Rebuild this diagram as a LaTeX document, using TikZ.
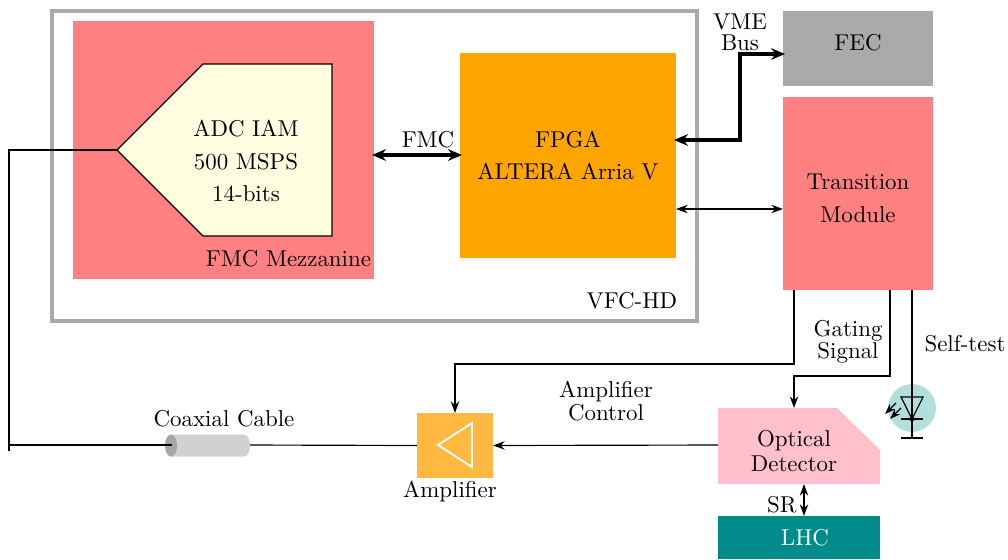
\documentclass[tikz,border=0pt]{standalone}
\usepackage{amsmath,amssymb}
\usepackage[dvipsnames]{xcolor}
\usetikzlibrary{
	positioning,
	arrows.meta
}

\definecolor{framegray}{HTML}{AAAAAA}
\definecolor{mezzred}{HTML}{FF8080}
\definecolor{fpgaorange}{HTML}{FFA500}
\definecolor{ampyellow}{HTML}{FFB840}
\definecolor{detpink}{HTML}{FFC0CB}
\definecolor{lhcteal}{HTML}{008B8B}
\definecolor{ledteal}{HTML}{B2DFDD}

\tikzset{
	x=0.43pt,y=-0.43pt,
	every node/.style={font=\fontsize{9.85pt}{12pt}\selectfont},
	box/.style={inner sep=0pt,outer sep=0pt,align=center},
	label/.style={inner sep=0pt,outer sep=0pt,align=center},
	wire/.style={line width=0.5pt,-{Stealth[length=5pt,width=3.6pt]}},
	wirenotip/.style={line width=0.5pt},
	twoway/.style={line width=0.5pt,{Stealth[length=5pt,width=3.6pt]}-{Stealth[length=5pt,width=3.6pt]}},
	bus/.style={line width=1.5pt,{Stealth[length=6pt,width=5pt]}-{Stealth[length=6pt,width=5pt]}}
}

\begin{document}
\begin{tikzpicture}
	\useasboundingbox (0,0) rectangle (1008,559);

	% carrier and boards
	\node [draw=framegray,line width=1.4pt,outer sep=0pt,minimum width=277.4pt,minimum height=133.3pt] (vfc) at (374.5,166) {};
	\node [box,fill=mezzred,minimum width=129.4pt,minimum height=111pt] (mezz) at (223.5,150) {};
	\node [box,fill=fpgaorange,minimum width=92.9pt,minimum height=88.2pt] (fpga) at (568,155.5)
		{FPGA\\[2pt]ALTERA Arria V};
	\node [box,fill=framegray,minimum width=64.5pt,minimum height=32.3pt] (fec) at (858,48.5) {};
	\node [label] (feclabel) at (858,43) {FEC};
	\node [box,fill=mezzred,minimum width=64.5pt,minimum height=83pt,below=4.7pt of fec] (tm) {};
	\node [label] (tmlabel) at (858,198.5) {Transition\\[2pt]Module};

	% ADC
	\coordinate (adctip) at (117,150);
	\draw [fill=yellow!12,line width=0.5pt] (adctip) -- (203,64) -- (332,64) -- (332,236) -- (203,236) -- cycle;
	\node [label] (adc) at (246,161) {ADC IAM\\[2pt]500 MSPS\\[2pt]14-bits};
	\node [label,anchor=south east] (mezzlabel) at (371,267) {FMC Mezzanine};
	\node [label,anchor=south east] (vfclabel) at (677,309) {VFC-HD};

	% front end
	\node [box,fill=ampyellow,minimum width=32.7pt,minimum height=28pt] (amp) at (455,445.5) {};
	\draw [white,line width=0.8pt] (438,445) -- (472,423) -- (472,467) -- cycle;
	\node [label] (amplabel) at (450,492) {Amplifier};
	\coordinate (cableright) at (250,445);
	\coordinate (cableend) at (172,445);
	\coordinate (cableleft) at (9,445);
	\coordinate (tickend) at (9,451);
	\fill [black!18] (171,434.5) -- (244,434.5) arc [start angle=90,end angle=-90,x radius=2.6pt,y radius=4.75pt] -- (171,456.5) -- cycle;
	\fill [black!35] (171,445.5) ellipse [x radius=2.6pt,y radius=4.75pt];
	\node [label] (cablelabel) at (224,419) {Coaxial Cable};

	\draw [fill=detpink,draw=none] (718,408) -- (837,408) -- (880,450) -- (880,484) -- (718,484) -- cycle;
	\coordinate (detin) at (794,408);
	\coordinate (detleft) at (718,445);
	\coordinate (detsr) at (804,484);
	\node [label] (det) at (794,451) {Optical\\[-1pt]Detector};
	\node [box,fill=lhcteal,minimum width=69.7pt,minimum height=18.5pt] (lhc) at (799,537.5) {};
	\node [label,text=white] (lhclabel) at (805,538) {LHC};

	% self-test LED
	\coordinate (ledtop) at (912,290);
	\coordinate (ledgnd) at (912,438);
	\node [circle,fill=ledteal,minimum size=20.6pt,inner sep=0pt] (led) at (912,408) {};
	\draw [line width=0.5pt] (901,397) -- (923,397) -- (912,419) -- cycle;
	\draw [line width=0.5pt] (901,419) -- (923,419);
	\draw [line width=0.5pt] (901,438) -- (923,438);
	\draw [line width=0.5pt] (ledtop) -- (ledgnd);
	\fill (912,419) circle (1pt);
	\draw [wire,-{Stealth[length=4.5pt,width=3.2pt]}] (896,403) -- (885,414);
	\draw [wire,-{Stealth[length=4.5pt,width=3.2pt]}] (901,408) -- (890,419);

	% connections
	\coordinate (fmcl) at (372,155);
	\coordinate (fmcr) at (462,155);
	\coordinate (fpgabus) at (674,140);
	\coordinate (fecbus) at (785,54);
	\draw [bus] (fmcl) -- (fmcr);
	\draw [bus] (fpgabus) -- (740,140) -- (740,54) -- (fecbus);
	\draw [twoway] (fpga.east |- 0,209) -- (tm.west |- 0,209);
	\draw [wirenotip] (adctip) -- (9,150) -- (cableleft) -- (tickend);
	\draw [wirenotip] (cableleft) -- (cableend);
	\draw [wirenotip] (cableright) -- (amp.west);
	\draw [wire] (detleft) -- (amp.east);
	\draw [wire] (tm.south -| 794,0) -- (794,364) -- (455,364) -- (amp.north);
	\draw [wire] (tm.south -| 890,0) -- (890,376) -- (794,376) -- (detin);
	\draw [twoway] (detsr) -- (lhc.north -| detsr);

	% labels
	\node [label] (fmclabel) at (428,140) {FMC};
	\node [label] (vmelabel) at (740,32.5) {VME\\[-3pt]Bus};
	\node [label] (gatinglabel) at (848,342) {Gating\\[-2.5pt]Signal};
	\node [label] (selflabel) at (965,344) {Self-test};
	\node [label] (ctrllabel) at (606,401) {Amplifier\\[-2.5pt]Control};
	\node [label] (srlabel) at (782,505) {SR};
\end{tikzpicture}
\end{document}
